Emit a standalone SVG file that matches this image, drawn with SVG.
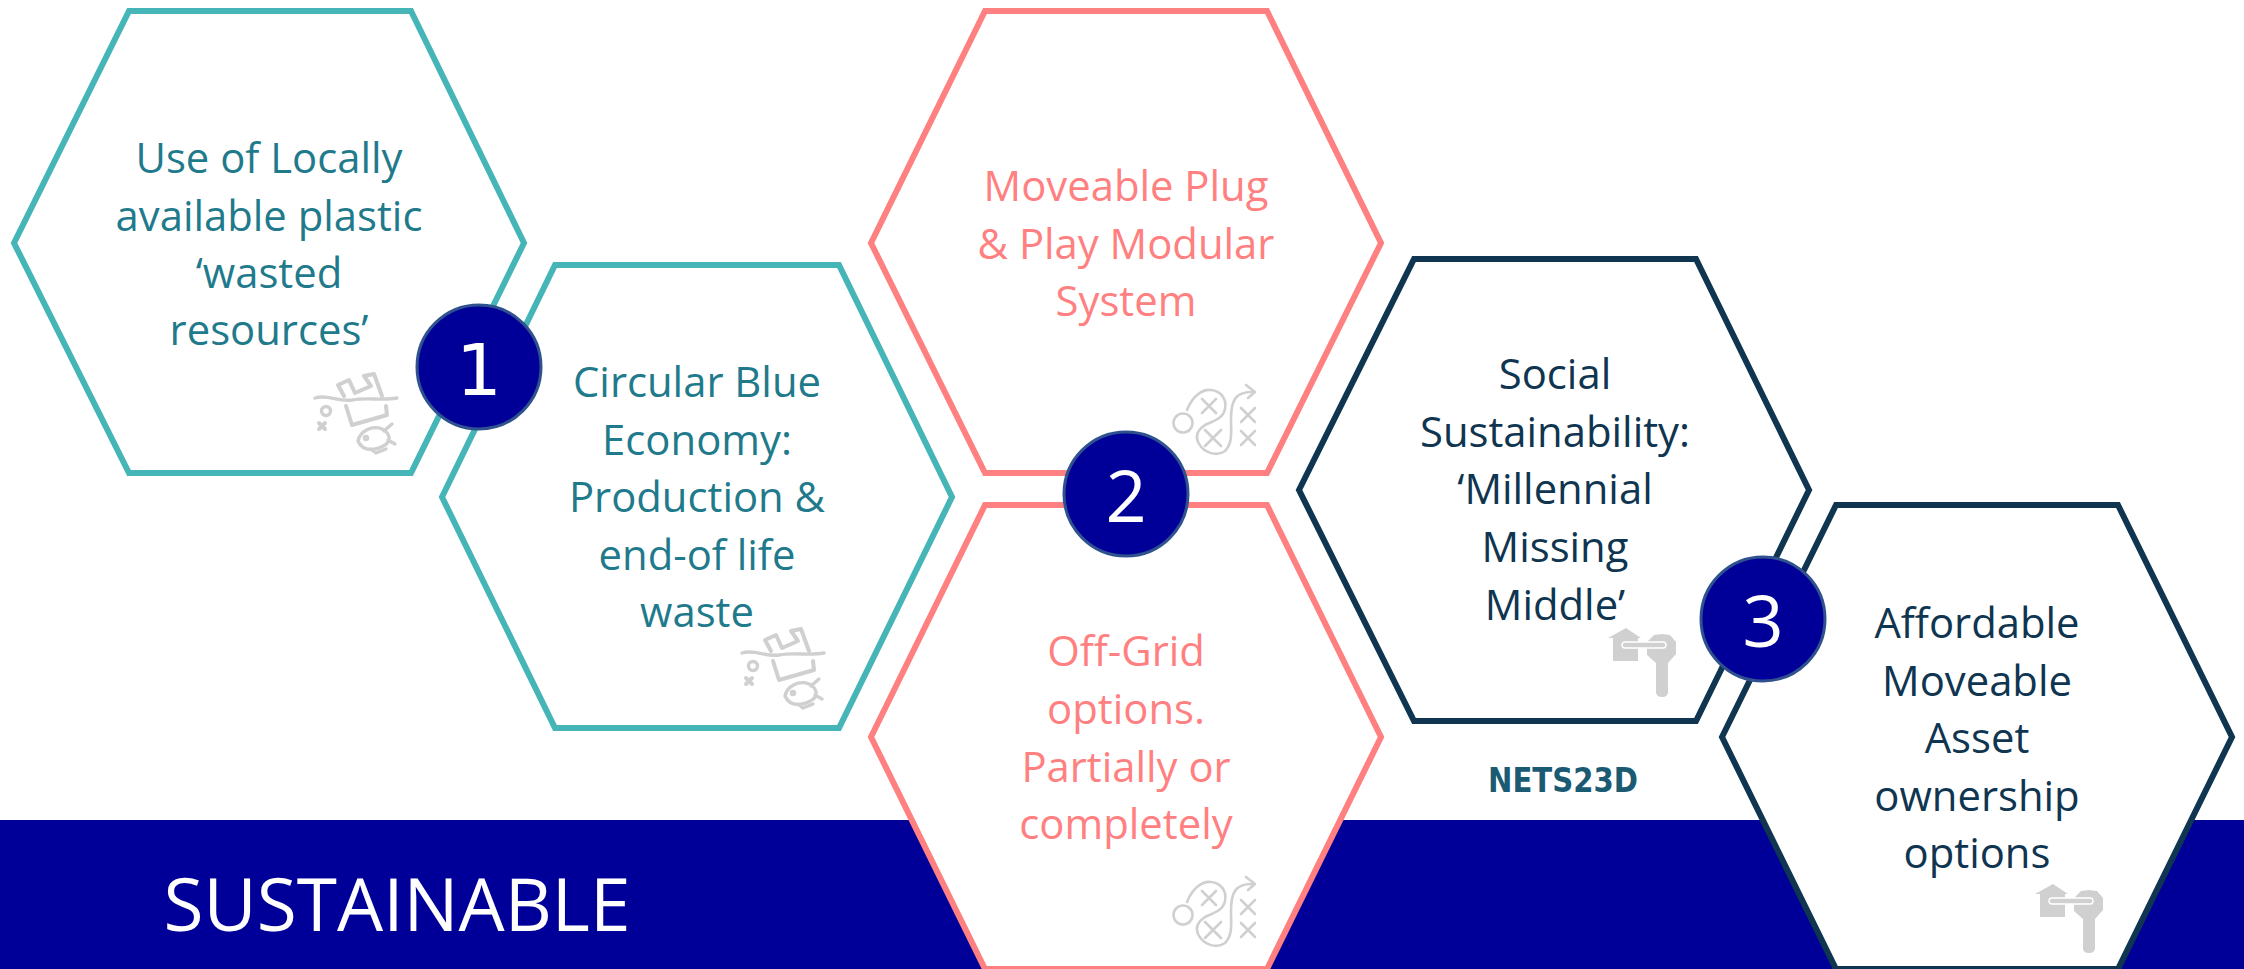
<svg xmlns="http://www.w3.org/2000/svg" xmlns:xlink="http://www.w3.org/1999/xlink" width="2244" height="969" viewBox="0 0 2244 969">
<style>
text{font-family:"Open Sans","Noto Sans","Liberation Sans",sans-serif;text-anchor:middle}
.hex{fill:#fff;stroke-width:6}
.teal{stroke:#45b5b8}.pink{stroke:#ff8080}.navy{stroke:#0f3550}
.lab{font-size:41.8px;transform:translateY(1px)}
.tt{fill:#1f7a8c}.tp{fill:#ff8080}.tn{fill:#0f3550}
.badge{fill:#000099;stroke:#2f528f;stroke-width:3}
.num{font-size:72px;fill:#fff}
.ic{fill:none;stroke:#d0d0d0;stroke-width:3.4;stroke-linecap:round;stroke-linejoin:round}
.icf{fill:#d0d0d0}
</style>
<defs>
<g id="waste" class="ic">
<path d="M1,25C14,21 24,29 38,27C54,24 68,28 83,25"/>
<path d="M30,23L24,12L35,7L41,20L57,13L50,3L60,1L68,23" stroke-width="4"/>
<path d="M32,33L38,52L73,42L72,33" stroke-width="4"/>
<circle cx="12" cy="38" r="4.5"/>
<path d="M5,50L11,56M11,50L5,56" stroke-width="4"/>
<path d="M44,68C46,58 58,52 68,56C74,59 76,63 75,68C70,76 50,82 44,68ZM70,58L78,51M74,67L81,71M57,76L62,80L72,76"/>
<circle cx="52" cy="65" r="1.5"/>
</g>
<g id="play" class="ic" style="stroke-width:2.6">
<circle cx="10" cy="38" r="9.5"/>
<path d="M14,25C20,10 30,4 38,5C48,6 54,14 52,24C50,34 40,36 32,40C26,44 22,50 25,57C30,68 44,72 52,66C60,58 58,46 58,34C58,16 62,6 81,7"/>
<path d="M73,0L82,7L75,13"/>
<path d="M29,14L43,28M43,14L29,28M32,45L48,61M48,45L32,61M68,23L82,37M82,23L68,37M68,46L82,60M82,46L68,60"/>
</g>
<g id="key">
<path class="icf" d="M0,10L18,0L33,10L30,10L30,33L5,33L5,10Z"/>
<path class="icf" d="M39,14L46,7L54,6L62,7L68,14L68,26L60,35L60,64Q60,69 54,69Q48,69 48,64L48,35L39,27Z"/>
<rect x="14" y="14" width="44" height="6" rx="3" fill="#d0d0d0" stroke="#fff" stroke-width="1.4"/>
</g>
</defs>
<rect id="banner" x="0" y="820" width="2244" height="149" fill="#000099"/>
<text x="397" y="931" font-size="73" fill="#fff">SUSTAINABLE</text>

<g id="n1"><polygon class="hex teal" points="14,243 129,11 411,11 524,243 411,473 129,473"/>
<use xlink:href="#waste" href="#waste" x="314" y="373"/>
<text class="lab tt"><tspan x="269" y="172">Use of Locally</tspan><tspan x="269" y="230">available plastic</tspan><tspan x="269" y="287">‘wasted</tspan><tspan x="269" y="344">resources’</tspan></text></g>

<g id="n2"><polygon class="hex teal" points="442,497 555,265 839,265 952,497 839,728 555,728"/>
<use xlink:href="#waste" href="#waste" x="741" y="628"/>
<text class="lab tt"><tspan x="697" y="396">Circular Blue</tspan><tspan x="697" y="454">Economy:</tspan><tspan x="697" y="511">Production &amp;</tspan><tspan x="697" y="569">end-of life</tspan><tspan x="697" y="626">waste</tspan></text></g>

<g id="n3"><polygon class="hex pink" points="871,243 985,11 1267,11 1381,243 1267,473 985,473"/>
<use xlink:href="#play" href="#play" x="1173" y="385"/>
<text class="lab tp"><tspan x="1126" y="200">Moveable Plug</tspan><tspan x="1126" y="258">&amp; Play Modular</tspan><tspan x="1126" y="315">System</tspan></text></g>

<g id="n4"><polygon class="hex pink" points="871,737 985,505 1267,505 1381,737 1267,969 985,969"/>
<use xlink:href="#play" href="#play" x="1173" y="877"/>
<text class="lab tp"><tspan x="1126" y="665">Off-Grid</tspan><tspan x="1126" y="723">options.</tspan><tspan x="1126" y="781">Partially or</tspan><tspan x="1126" y="838">completely</tspan></text></g>

<g id="n5"><polygon class="hex navy" points="1299,490 1414,259 1696,259 1809,490 1696,721 1414,721"/>
<use xlink:href="#key" href="#key" x="1608" y="628"/>
<text class="lab tn"><tspan x="1555" y="388">Social</tspan><tspan x="1555" y="446">Sustainability:</tspan><tspan x="1555" y="503">‘Millennial</tspan><tspan x="1555" y="561">Missing</tspan><tspan x="1555" y="619">Middle’</tspan></text></g>

<g id="n6"><polygon class="hex navy" points="1722,737 1836,505 2118,505 2232,737 2118,969 1836,969"/>
<use xlink:href="#key" href="#key" x="2035" y="884"/>
<text class="lab tn"><tspan x="1977" y="637">Affordable</tspan><tspan x="1977" y="695">Moveable</tspan><tspan x="1977" y="752">Asset</tspan><tspan x="1977" y="810">ownership</tspan><tspan x="1977" y="867">options</tspan></text></g>

<text id="logo" x="1563" y="792" font-size="34" font-weight="bold" fill="#1b5a73" textLength="150" lengthAdjust="spacingAndGlyphs" style='font-family:"DejaVu Sans",sans-serif'>NETS23D</text>

<g id="b1"><circle class="badge" cx="479" cy="367" r="62"/><text class="num" x="479" y="395" style='font-family:"DejaVu Sans",sans-serif'>1</text></g>
<g id="b2"><circle class="badge" cx="1126" cy="494" r="62"/><text class="num" x="1126" y="522">2</text></g>
<g id="b3"><circle class="badge" cx="1763" cy="619" r="62"/><text class="num" x="1763" y="647">3</text></g>
<g id="connectors"></g>
</svg>
